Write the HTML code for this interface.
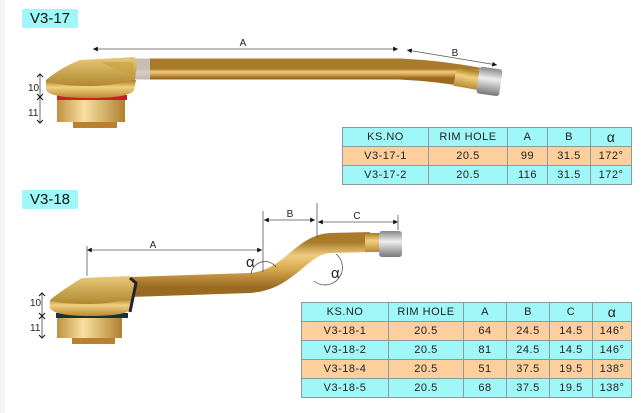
<!DOCTYPE html>
<html><head><meta charset="utf-8"><style>
html,body{margin:0;padding:0;background:#fff;}
body{width:641px;height:413px;position:relative;overflow:hidden;font-family:"Liberation Sans",sans-serif;}
.tag{position:absolute;left:22px;width:56px;height:19px;background:#9ff7f7;border-radius:2px;font-size:15px;line-height:19px;text-align:center;color:#111;}
table{position:absolute;border-collapse:collapse;font-size:11px;color:#222;letter-spacing:0.5px;}
td{border:1px solid #8a9aa0;text-align:center;padding:0;height:18px;}
tr.c td{background:#9ff7f7;}
tr.o td{background:#fccf9d;}
svg{position:absolute;left:0;top:0;}
</style></head><body>
<svg width="641" height="413" viewBox="0 0 641 413">
<defs>
<linearGradient id="tube" x1="0" y1="0" x2="0" y2="1">
<stop offset="0" stop-color="#a87a2a"/><stop offset="0.3" stop-color="#f0cc80"/><stop offset="0.6" stop-color="#d8a850"/><stop offset="1" stop-color="#9a6a22"/></linearGradient>
<linearGradient id="brass" x1="0" y1="0" x2="0" y2="1">
<stop offset="0" stop-color="#a87a20"/><stop offset="0.4" stop-color="#f0d080"/><stop offset="1" stop-color="#b88a30"/></linearGradient>
<linearGradient id="brassh" x1="0" y1="0" x2="1" y2="0">
<stop offset="0" stop-color="#c09040"/><stop offset="0.4" stop-color="#f8e0a0"/><stop offset="1" stop-color="#b08030"/></linearGradient>
<linearGradient id="cone" x1="0" y1="0" x2="0" y2="1">
<stop offset="0" stop-color="#e8c878"/><stop offset="1" stop-color="#b08830"/></linearGradient>
<linearGradient id="cap" x1="0" y1="0" x2="0" y2="1">
<stop offset="0" stop-color="#888"/><stop offset="0.4" stop-color="#eee"/><stop offset="1" stop-color="#777"/></linearGradient>
<marker id="ar" markerWidth="6" markerHeight="6" refX="6" refY="3" orient="auto"><path d="M0,0 L6,3 L0,6z" fill="#111"/></marker>
<marker id="al" markerWidth="6" markerHeight="6" refX="0" refY="3" orient="auto"><path d="M6,0 L0,3 L6,6z" fill="#111"/></marker>
</defs>
<rect x="0" y="0" width="5" height="413" fill="#f5f5f5"/>
<!-- V3-17 -->
<path d="M132,69 L400,69 Q440,71 478,78" stroke="url(#tube)" stroke-width="21" fill="none"/>
<path d="M135,69 L150,69" stroke="#d0d0d8" stroke-width="21" opacity="0.8"/>
<rect x="455" y="69" width="24" height="19" fill="url(#brass)" transform="rotate(10 467 78)"/>
<rect x="478" y="68" width="23" height="27" rx="3" fill="url(#cap)" transform="rotate(8 490 81)"/>
<rect x="57" y="98" width="68" height="24" fill="url(#brassh)"/>
<rect x="73" y="122" width="44" height="6" fill="#b88030"/>
<rect x="57" y="95" width="70" height="5" fill="#c82020"/>
<path d="M46,80 L46,90 Q50,98 90,98 Q130,98 134,90 L136,80 Z" fill="url(#brass)"/>
<path d="M46,80 Q60,68 80,60 L135,57 L137,64 L135,80 Q110,86 90,86 Q55,86 46,80 Z" fill="url(#cone)"/>
<path d="M100,62 L133,62 L134,78 Z" fill="#c8a040" opacity="0.6"/>
<line x1="93" y1="49" x2="398" y2="49" stroke="#555" stroke-width="0.8" marker-start="url(#al)" marker-end="url(#ar)"/>
<line x1="407" y1="50" x2="497" y2="65" stroke="#555" stroke-width="0.8" marker-start="url(#al)" marker-end="url(#ar)"/>
<text x="243" y="46" font-size="10" text-anchor="middle" fill="#222">A</text>
<text x="455" y="56" font-size="10" text-anchor="middle" fill="#222">B</text>
<line x1="40" y1="74" x2="40" y2="123" stroke="#444" stroke-width="0.8"/>
<path d="M37,77 L40,74 L43,77 M37,94 L40,97 L43,94 M37,100 L40,97 L43,100 M37,120 L40,123 L43,120" stroke="#111" fill="none"/>
<text x="28" y="91" font-size="10" fill="#222">10</text>
<text x="28" y="116" font-size="10" fill="#222">11</text>
<!-- V3-18 -->
<path d="M130,287 L250,283 C290,280 300,245 330,243 L370,242" stroke="url(#tube)" stroke-width="20" fill="none"/>
<rect x="365" y="233" width="15" height="19" fill="url(#brass)"/>
<rect x="379" y="231" width="23" height="26" rx="3" fill="url(#cap)"/>
<rect x="57" y="318" width="65" height="20" fill="url(#brassh)"/>
<rect x="72" y="338" width="43" height="6" fill="#b88030"/>
<rect x="56" y="313" width="72" height="5" fill="#1a3030"/>
<path d="M50,300 L50,308 Q54,316 90,316 Q128,316 132,308 L134,298 Z" fill="url(#brass)"/>
<path d="M50,300 Q62,290 82,278 L130,276 L136,283 L133,298 Q110,304 90,304 Q58,304 50,300 Z" fill="url(#cone)"/>
<path d="M130,278 L136,283 L130,312" stroke="#223" stroke-width="3" fill="none"/>
<g stroke="#555" stroke-width="0.8" fill="none">
<line x1="87" y1="250" x2="262" y2="250" marker-start="url(#al)" marker-end="url(#ar)"/>
<line x1="264" y1="220" x2="315" y2="220" marker-start="url(#al)" marker-end="url(#ar)"/>
<line x1="318" y1="222" x2="398" y2="222" marker-start="url(#al)" marker-end="url(#ar)"/>
<line x1="87" y1="246" x2="87" y2="276"/>
<line x1="263" y1="211" x2="263" y2="272"/>
<line x1="317" y1="203" x2="317" y2="238"/>
<line x1="398" y1="215" x2="398" y2="230"/>
<path d="M251,274 A14,14 0 0 1 276,267"/>
<path d="M336,254 A14,14 0 0 1 314,281"/>
</g>
<text x="153" y="248" font-size="10" text-anchor="middle" fill="#222">A</text>
<text x="290" y="217" font-size="10" text-anchor="middle" fill="#222">B</text>
<text x="357" y="219" font-size="10" text-anchor="middle" fill="#222">C</text>
<text x="246" y="267" font-size="15" fill="#222">α</text>
<text x="331" y="278" font-size="15" fill="#222">α</text>
<line x1="42" y1="293" x2="42" y2="338" stroke="#444" stroke-width="0.8"/>
<path d="M39,296 L42,293 L45,296 M39,313 L42,316 L45,313 M39,319 L42,316 L45,319 M39,335 L42,338 L45,335" stroke="#111" fill="none"/>
<text x="30" y="306" font-size="10" fill="#222">10</text>
<text x="30" y="331" font-size="10" fill="#222">11</text>
</svg>
<div class="tag" style="top:9px">V3-17</div>
<div class="tag" style="top:190px">V3-18</div>
<table style="left:342px;top:127px;width:290px;">
<tr class="c"><td style="width:85px">KS.NO</td><td style="width:78px">RIM HOLE</td><td style="width:39px">A</td><td style="width:42px">B</td><td style="font-size:14px">α</td></tr>
<tr class="o"><td>V3-17-1</td><td>20.5</td><td>99</td><td>31.5</td><td>172°</td></tr>
<tr class="c"><td>V3-17-2</td><td>20.5</td><td>116</td><td>31.5</td><td>172°</td></tr>
</table>
<table style="left:301px;top:302px;width:331px;">
<tr class="c"><td style="width:86px">KS.NO</td><td style="width:74px">RIM HOLE</td><td style="width:42px">A</td><td style="width:42px">B</td><td style="width:42px">C</td><td style="font-size:14px">α</td></tr>
<tr class="o"><td>V3-18-1</td><td>20.5</td><td>64</td><td>24.5</td><td>14.5</td><td>146°</td></tr>
<tr class="c"><td>V3-18-2</td><td>20.5</td><td>81</td><td>24.5</td><td>14.5</td><td>146°</td></tr>
<tr class="o"><td>V3-18-4</td><td>20.5</td><td>51</td><td>37.5</td><td>19.5</td><td>138°</td></tr>
<tr class="c"><td>V3-18-5</td><td>20.5</td><td>68</td><td>37.5</td><td>19.5</td><td>138°</td></tr>
</table>
</body></html>
